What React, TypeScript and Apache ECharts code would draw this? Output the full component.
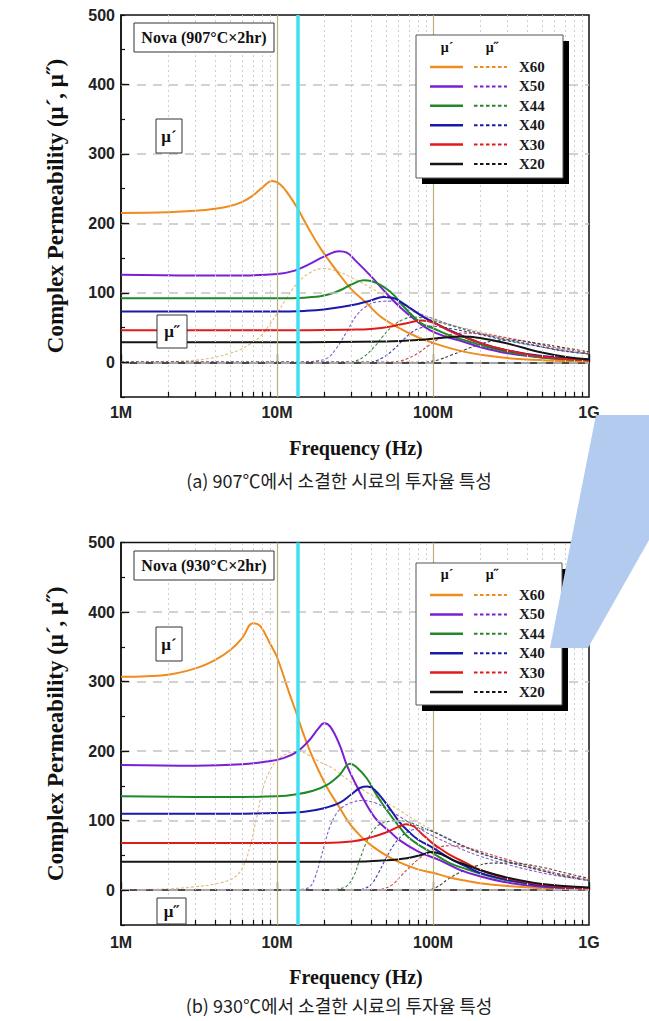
import React, { useEffect, useRef } from "react";
import * as echarts from "echarts";

// ---------- labels / categories ----------
const SERIES_NAMES = ["X60", "X50", "X44", "X40", "X30", "X20"];
const REAL_COLORS = ["#f08c1c", "#7a1fd6", "#1f8a2a", "#1a1aaa", "#e01b1b", "#151515"];
const IMAG_COLORS = ["#e2bd78", "#8a5ccc", "#3a8a44", "#3d3db0", "#cf4444", "#404040"];
const X_TICK_VALUES = [1e6, 1e7, 1e8, 1e9];
const X_TICK_LABELS = ["1M", "10M", "100M", "1G"];
const Y_MAJOR = [0, 100, 200, 300, 400];
const Y_GRID = [0, 100, 200, 300, 400];
const MINOR_MHZ = [2, 3, 4, 5, 6, 7, 8, 9, 20, 30, 40, 50, 60, 70, 80, 90, 200, 300, 400, 500, 600, 700, 800, 900];
const BAND_LINES_MHZ = [10, 100];
const CYAN_MHZ = 13.56;
const PANEL_TITLES = ["Nova (907°C×2hr)", "Nova (930°C×2hr)"];
const CAPTIONS = ["(a) 907℃에서 소결한 시료의 투자율 특성", "(b) 930℃에서 소결한 시료의 투자율 특성"];
const Y_TITLE = "Complex Permeability (μ´, μ˝)";
const X_TITLE = "Frequency (Hz)";

// ---------- 907°C : mu' (frequency MHz, value) ----------
const R907_X60 = [[1, 215], [2, 216], [3, 218], [4, 221], [5, 225], [6, 231], [7, 240], [8, 251], [9.3, 261], [10.5, 256], [12, 240], [13.5, 222], [16, 192], [19, 164], [25, 127], [30, 105], [38, 84], [46, 66], [60, 50], [80, 36], [100, 28], [130, 20], [160, 15], [200, 11], [300, 6], [500, 3], [1000, 1]];
const R907_X50 = [[1, 126], [3, 125], [6, 125], [10, 127], [13, 132], [16, 141], [20, 152], [25, 160], [28, 158], [32, 146], [40, 124], [50, 100], [61, 80], [80, 58], [96, 46], [120, 37], [150, 31], [200, 22], [300, 13], [500, 7], [1000, 3]];
const R907_X44 = [[1, 92], [5, 92], [10, 92], [15, 93], [20, 96], [25, 103], [30, 112], [36, 118], [40, 117], [53, 102], [65, 80], [83, 57], [100, 49], [134, 37], [170, 30], [200, 25], [300, 15], [500, 7], [1000, 3]];
const R907_X40 = [[1, 73], [5, 73], [10, 73], [15, 74], [20, 76], [30, 82], [40, 89], [48, 94], [55, 93], [65, 84], [83, 68], [100, 58], [134, 44], [200, 28], [300, 17], [500, 9], [1000, 4]];
const R907_X30 = [[1, 46], [10, 46], [30, 47], [40, 48], [55, 52], [70, 57], [85, 60], [100, 57], [134, 43], [200, 28], [300, 17], [500, 8], [1000, 3]];
const R907_X20 = [[1, 29], [10, 29], [50, 30], [80, 32], [110, 35], [150, 37], [200, 35], [300, 27], [500, 14], [700, 8], [1000, 4]];

// ---------- 907°C : mu'' ----------
const I907_X60 = [[1, 0], [2, 1], [3, 3], [4, 7], [5, 13], [5.8, 18], [6.8, 27], [7.8, 37], [9, 55], [10, 70], [11.5, 92], [13.4, 113], [16, 128], [19.7, 135], [25, 130], [30, 122], [40, 107], [50, 94], [61, 82], [80, 70], [96, 63], [130, 54], [160, 49], [200, 44], [300, 35], [500, 25], [700, 19], [1000, 14]];
const I907_X50 = [[1, 0], [14, 0], [18, 2], [21, 6], [24, 20], [28, 44], [32, 66], [37, 80], [44, 87], [52, 88], [62, 84], [83, 70], [100, 63], [134, 53], [200, 42], [300, 33], [500, 23], [700, 17], [1000, 12]];
const I907_X44 = [[1, 0], [28, 0], [32, 2], [36, 8], [42, 22], [48, 38], [55, 52], [65, 62], [75, 65], [85, 64], [100, 60], [134, 52], [200, 41], [300, 32], [500, 22], [700, 16], [1000, 12]];
const I907_X40 = [[1, 0], [38, 0], [43, 2], [48, 7], [55, 17], [63, 30], [72, 42], [82, 49], [95, 52], [110, 51], [134, 48], [200, 40], [300, 31], [500, 22], [700, 16], [1000, 12]];
const I907_X30 = [[1, 0], [55, 0], [62, 2], [70, 6], [80, 13], [95, 25], [110, 34], [130, 40], [160, 42], [200, 41], [300, 35], [500, 25], [700, 19], [1000, 13]];
const I907_X20 = [[1, 0], [85, 0], [95, 1], [110, 4], [130, 10], [160, 18], [200, 26], [250, 31], [320, 32], [450, 28], [700, 21], [1000, 15]];

// ---------- 930°C : mu' ----------
const R930_X60 = [[1, 307], [2, 310], [3, 319], [4, 331], [5, 345], [6, 363], [7, 384], [7.8, 380], [9, 355], [10, 335], [12, 283], [13.4, 253], [14.7, 226], [17, 190], [20.8, 149], [25, 120], [29.4, 95], [35, 76], [41, 63], [50, 50], [61, 40], [80, 30], [100, 25], [130, 18], [160, 14], [200, 10], [300, 6], [500, 3], [1000, 1]];
const R930_X50 = [[1, 180], [3, 179], [6, 181], [8.6, 185], [11, 190], [13.4, 199], [16, 215], [18.5, 233], [20, 240], [22, 235], [25.3, 208], [28, 180], [32.4, 150], [36, 130], [43.6, 101], [53, 84], [61, 72], [80, 56], [111, 43], [150, 29], [200, 20], [300, 11], [500, 5], [1000, 2]];
const R930_X44 = [[1, 135], [5, 134], [10, 135], [13.4, 138], [17, 143], [20.8, 151], [25, 165], [29.4, 182], [32, 178], [37.6, 161], [44, 135], [50.6, 115], [61, 91], [68, 78], [80, 66], [100, 53], [128, 39], [160, 31], [200, 24], [300, 14], [500, 7], [1000, 3]];
const R930_X40 = [[1, 110], [5, 110], [10, 111], [15, 113], [20, 118], [25.3, 126], [30, 138], [34, 147], [38, 149], [42, 145], [50, 125], [61, 98], [70, 84], [80, 73], [100, 61], [130, 45], [160, 35], [200, 25], [300, 15], [500, 7], [1000, 3]];
const R930_X30 = [[1, 68], [10, 68], [20, 68], [30, 70], [40, 76], [50, 83], [60, 91], [67, 95], [75, 92], [85, 81], [100, 67], [111, 60], [130, 50], [160, 40], [200, 29], [300, 17], [500, 8], [1000, 3]];
const R930_X20 = [[1, 41], [10, 41], [30, 41], [50, 43], [68, 46], [85, 51], [98, 55], [115, 51], [135, 43], [160, 37], [200, 29], [300, 18], [500, 9], [1000, 4]];

// ---------- 930°C : mu'' ----------
const I930_X60 = [[1, 0], [2, 2], [3, 5], [4, 9], [5.2, 17], [6, 32], [6.7, 62], [7.4, 105], [8.2, 149], [9, 172], [10, 187], [11.5, 196], [13.5, 200], [16, 194], [19, 184], [22.9, 175], [28, 160], [37.6, 141], [50, 126], [61, 115], [80, 98], [100, 86], [130, 73], [160, 63], [200, 54], [300, 42], [500, 29], [700, 21], [1000, 16]];
const I930_X50 = [[1, 0], [13, 0], [15, 2], [16.3, 5], [17.5, 18], [18.9, 43], [20.3, 68], [21.8, 91], [24, 110], [26.5, 120], [30, 126], [35, 129], [42, 126], [50.6, 117], [61, 106], [80, 90], [100, 78], [130, 66], [160, 57], [200, 49], [300, 37], [500, 25], [700, 19], [1000, 14]];
const I930_X44 = [[1, 0], [22, 0], [25, 2], [28, 6], [31, 20], [34, 45], [37.6, 70], [41, 85], [45.7, 95], [52, 99], [60, 100], [70, 98], [80, 93], [100, 84], [130, 72], [160, 62], [200, 53], [300, 41], [500, 28], [700, 20], [1000, 14]];
const I930_X40 = [[1, 0], [32, 0], [36, 2], [40, 8], [44, 22], [50, 46], [56, 65], [63, 78], [72, 86], [82, 88], [95, 86], [110, 80], [130, 72], [160, 63], [200, 54], [300, 41], [500, 28], [700, 20], [1000, 14]];
const I930_X30 = [[1, 0], [44, 0], [48, 2], [55, 8], [62, 20], [70, 32], [80, 44], [95, 56], [110, 62], [130, 64], [160, 62], [200, 56], [300, 44], [500, 30], [700, 22], [1000, 15]];
const I930_X20 = [[1, 0], [90, 0], [100, 2], [112, 8], [125, 16], [150, 26], [190, 35], [240, 39], [320, 39], [500, 33], [700, 25], [1000, 17]];

const PANEL_REAL = [
  [R907_X60, R907_X50, R907_X44, R907_X40, R907_X30, R907_X20],
  [R930_X60, R930_X50, R930_X44, R930_X40, R930_X30, R930_X20],
];
const PANEL_IMAG = [
  [I907_X60, I907_X50, I907_X44, I907_X40, I907_X30, I907_X20],
  [I930_X60, I930_X50, I930_X44, I930_X40, I930_X30, I930_X20],
];

// ---------- layout (pixels) ----------
const LAYOUT = [
  {
    top: 15, bottom: 397,
    legend: { x: 416, y: 35, w: 147, h: 143, header: 47, row0: 67 },
    nova: { x: 134, y: 23, w: 140, h: 29 },
    mu1: { x: 156, y: 119, w: 26, h: 34 },
    mu2: { x: 157, y: 315, w: 30, h: 33 },
    xTitle: 448, caption: 480,
  },
  {
    top: 542.5, bottom: 925,
    legend: { x: 416, y: 563, w: 146, h: 142, header: 574, row0: 595 },
    nova: { x: 134, y: 551, w: 140, h: 29 },
    mu1: { x: 156, y: 627, w: 26, h: 34 },
    mu2: { x: 157, y: 898, w: 29, h: 26 },
    xTitle: 977, caption: 1005,
  },
];
const PLOT_LEFT = 121;
const PLOT_RIGHT = 589;
const W = 649;
const H = 1021;
const Y_MIN = -50;
const Y_MAX = 500;

const MHZ = 1e6;
const toHz = (arr: number[][]) => arr.map(([f, v]) => [f * MHZ, v]);

function buildOption() {
  const grids: any[] = [];
  const xAxes: any[] = [];
  const yAxes: any[] = [];
  const series: any[] = [];
  const graphics: any[] = [];
  const labelMap: Record<string, string> = {};
  X_TICK_VALUES.forEach((v, i) => (labelMap[String(v)] = X_TICK_LABELS[i]));

  LAYOUT.forEach((L, p) => {
    const plotH = L.bottom - L.top;
    const unitPerPx = (Y_MAX - Y_MIN) / plotH;
    const decadePx = (PLOT_RIGHT - PLOT_LEFT) / 3;
    grids.push({
      left: PLOT_LEFT, right: W - PLOT_RIGHT, top: L.top, height: plotH,
      show: true, borderColor: "#111", borderWidth: 1.5, backgroundColor: "transparent",
    });
    xAxes.push({
      type: "log", logBase: 10, min: 1e6, max: 1e9, gridIndex: p,
      axisLine: { show: true, lineStyle: { color: "#111", width: 1.5 } },
      axisTick: { show: true, inside: true, length: 8, lineStyle: { color: "#111", width: 1.3 } },
      axisLabel: {
        margin: p === 0 ? 7 : 9,
        color: "#222", fontSize: 16, fontWeight: "bold", fontFamily: "Liberation Sans",
        formatter: (v: number) => {
          const key = X_TICK_VALUES.find((t) => Math.abs(Math.log10(t) - Math.log10(v)) < 1e-6);
          return key ? labelMap[String(key)] : "";
        },
      },
      splitLine: { show: false },
      minorTick: { show: false },
    });
    yAxes.push({
      type: "value", min: Y_MIN, max: Y_MAX, interval: 50, gridIndex: p,
      axisLine: { show: true, lineStyle: { color: "#111", width: 1.5 } },
      axisTick: { show: true, inside: true, length: 4, lineStyle: { color: "#111", width: 1.2 } },
      axisLabel: {
        margin: 6, color: "#222", fontSize: 16, fontWeight: "bold", fontFamily: "Liberation Sans",
        formatter: (v: number) => (v >= 0 && v % 100 === 0 ? String(v) : ""),
      },
      splitLine: { show: false },
    });

    // guide lines through the axes' scales
    const tickLen = 5 * unitPerPx;
    const majorTickF = 1e6 * Math.pow(10, 8 / decadePx);
    const guideData: any[] = [];
    MINOR_MHZ.forEach((f) =>
      guideData.push({ xAxis: f * MHZ, lineStyle: { color: "#cfcfcf", type: [2, 3], width: 1 } })
    );
    Y_GRID.forEach((v) =>
      guideData.push({ yAxis: v, lineStyle: { color: "#c4c4c4", type: [9, 7], width: 1.5 } })
    );
    BAND_LINES_MHZ.forEach((f) =>
      guideData.push({ xAxis: f * MHZ, lineStyle: { color: "#b9ac7e", type: "solid", width: 1.2 } })
    );
    MINOR_MHZ.forEach((f) =>
      guideData.push([
        { coord: [f * MHZ, Y_MIN], lineStyle: { color: "#111", type: "solid", width: 1.2 } },
        { coord: [f * MHZ, Y_MIN + tickLen] },
      ])
    );
    Y_MAJOR.forEach((v) =>
      guideData.push([
        { coord: [1e6, v], lineStyle: { color: "#111", type: "solid", width: 1.3 } },
        { coord: [majorTickF, v] },
      ])
    );
    series.push({
      type: "line", xAxisIndex: p, yAxisIndex: p, z: 1, silent: true,
      data: [[1e6, -1000]], symbol: "none", lineStyle: { opacity: 0 },
      markLine: { silent: true, symbol: ["none", "none"], label: { show: false }, animation: false, data: guideData },
    });

    // curves
    PANEL_IMAG[p].forEach((arr, i) => {
      series.push({
        name: SERIES_NAMES[i] + "''", type: "line", xAxisIndex: p, yAxisIndex: p, z: 3,
        data: toHz(arr), smooth: 0.4, showSymbol: false, symbol: "none",
        lineStyle: { color: IMAG_COLORS[i], width: 1.1, type: [3, 2] },
      });
    });
    PANEL_REAL[p].forEach((arr, i) => {
      series.push({
        name: SERIES_NAMES[i] + "'", type: "line", xAxisIndex: p, yAxisIndex: p, z: 4,
        data: toHz(arr), smooth: 0.4, showSymbol: false, symbol: "none",
        lineStyle: { color: REAL_COLORS[i], width: 2 },
      });
    });

    // cyan marker line
    series.push({
      type: "line", xAxisIndex: p, yAxisIndex: p, z: 6, silent: true,
      data: [[1e6, -1000]], symbol: "none", lineStyle: { opacity: 0 },
      markLine: {
        silent: true, symbol: ["none", "none"], label: { show: false }, animation: false,
        data: [{ xAxis: CYAN_MHZ * MHZ, lineStyle: { color: "#3fe0f0", type: "solid", width: 3.5 } }],
      },
    });

    // ---------- annotations ----------
    const serif = '"Liberation Serif", "Times New Roman", serif';
    const box = (b: any, text: string, size: number) => {
      graphics.push({
        type: "rect", z: 100, shape: { x: b.x, y: b.y, width: b.w, height: b.h },
        style: { fill: "#fff", stroke: "#333", lineWidth: 1 },
      });
      graphics.push({
        type: "text", z: 101, x: b.x + b.w / 2, y: b.y + b.h / 2,
        style: { text, font: `bold ${size}px ${serif}`, fill: "#111", align: "center", verticalAlign: "middle" },
      });
    };
    box(L.nova, PANEL_TITLES[p], 16);
    box(L.mu1, "μ´", 17);
    box(L.mu2, "μ˝", 17);

    const lg = L.legend;
    graphics.push({
      type: "rect", z: 100, shape: { x: lg.x + 6, y: lg.y + 6, width: lg.w, height: lg.h },
      style: { fill: "#000" },
    });
    graphics.push({
      type: "rect", z: 101, shape: { x: lg.x, y: lg.y, width: lg.w, height: lg.h },
      style: { fill: "#fff", stroke: "#555", lineWidth: 1 },
    });
    graphics.push({
      type: "text", z: 102, x: 447, y: lg.header,
      style: { text: "μ´", font: `bold 14px ${serif}`, fill: "#111", align: "center", verticalAlign: "middle" },
    });
    graphics.push({
      type: "text", z: 102, x: 492, y: lg.header,
      style: { text: "μ˝", font: `bold 14px ${serif}`, fill: "#111", align: "center", verticalAlign: "middle" },
    });
    SERIES_NAMES.forEach((name, i) => {
      const y = lg.row0 + i * 19.4;
      graphics.push({
        type: "line", z: 102, shape: { x1: 430, y1: y, x2: 463, y2: y },
        style: { stroke: REAL_COLORS[i], lineWidth: 2.5 },
      });
      graphics.push({
        type: "line", z: 102, shape: { x1: 474, y1: y, x2: 507, y2: y },
        style: { stroke: REAL_COLORS[i], lineWidth: 2, lineDash: [3.5, 2.5] },
      });
      graphics.push({
        type: "text", z: 102, x: 519, y,
        style: { text: name, font: `bold 15px ${serif}`, fill: "#1a1a1a", align: "left", verticalAlign: "middle" },
      });
    });

    graphics.push({
      type: "text", z: 100, x: 55, y: (L.top + L.bottom) / 2, rotation: Math.PI / 2,
      style: { text: Y_TITLE, font: `bold 23px ${serif}`, fill: "#111", align: "center", verticalAlign: "middle" },
    });
    graphics.push({
      type: "text", z: 100, x: 356, y: L.xTitle,
      style: { text: X_TITLE, font: `bold 20px ${serif}`, fill: "#111", align: "center", verticalAlign: "middle" },
    });
    graphics.push({
      type: "text", z: 100, x: 339, y: L.caption,
      style: { text: CAPTIONS[p], font: `18px "Noto Sans CJK KR"`, fill: "#222", align: "center", verticalAlign: "middle" },
    });
  });

  // watermark
  graphics.push({
    type: "polygon", z: 120,
    shape: { points: [[596, 415], [649, 415], [649, 540], [588, 648], [550, 648]] },
    style: { fill: "#b3cbee", opacity: 1 },
  });

  return {
    animation: false,
    backgroundColor: "#fff",
    grid: grids,
    xAxis: xAxes,
    yAxis: yAxes,
    series,
    graphic: { elements: graphics },
  };
}

export default function App() {
  const ref = useRef<HTMLDivElement>(null);
  useEffect(() => {
    if (!ref.current) return;
    const chart = echarts.init(ref.current, undefined, { renderer: "svg" });
    chart.setOption(buildOption() as any);
    return () => chart.dispose();
  }, []);
  return (
    <div
      ref={ref}
      style={{ position: "fixed", left: 0, top: 0, width: W, height: H, background: "#fff" }}
    />
  );
}
